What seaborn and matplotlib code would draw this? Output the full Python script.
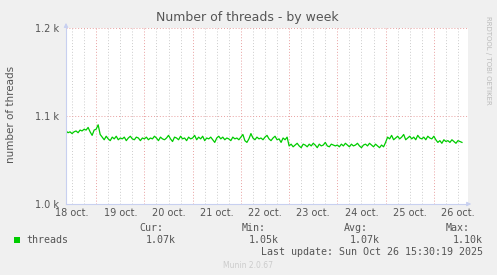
import matplotlib
matplotlib.use("Agg")
import matplotlib.pyplot as plt
import matplotlib.dates as mdates
import seaborn as sns
import pandas as pd
import numpy as np

# ---- data (hourly samples starting 18 oct 09:00) ----
day18 = [1083, 1081, 1082, 1080, 1082, 1083, 1081, 1084, 1083, 1085, 1084, 1087, 1082, 1078, 1084]
day19 = [1085, 1090, 1079, 1076, 1073, 1077, 1074, 1072, 1076, 1074, 1077, 1073, 1075, 1074, 1076, 1072,
         1075, 1077, 1074, 1073, 1076, 1075, 1072, 1075]
day20 = [1074, 1076, 1073, 1075, 1074, 1077, 1075, 1072, 1076, 1074, 1073, 1075, 1078, 1074, 1071, 1076,
         1075, 1073, 1077, 1074, 1075, 1072, 1076, 1074]
day21 = [1075, 1078, 1073, 1076, 1074, 1077, 1072, 1075, 1074, 1076, 1073, 1070, 1075, 1077, 1074, 1076,
         1073, 1075, 1074, 1072, 1076, 1074, 1075, 1073]
day22 = [1076, 1079, 1072, 1070, 1074, 1080, 1075, 1073, 1076, 1074, 1075, 1073, 1076, 1078, 1074, 1072,
         1075, 1077, 1073, 1074, 1070, 1075, 1073, 1076]
day23 = [1066, 1068, 1065, 1067, 1069, 1066, 1064, 1068, 1067, 1065, 1068, 1066, 1069, 1067, 1064, 1068,
         1066, 1067, 1070, 1066, 1065, 1068, 1067, 1066]
day24 = [1067, 1065, 1068, 1066, 1069, 1067, 1065, 1068, 1066, 1067, 1069, 1066, 1064, 1067, 1068, 1066,
         1069, 1067, 1065, 1068, 1066, 1064, 1067, 1065]
day25 = [1070, 1076, 1074, 1078, 1073, 1075, 1077, 1074, 1076, 1079, 1073, 1075, 1077, 1074, 1076, 1073,
         1078, 1075, 1074, 1076, 1073, 1077, 1075, 1074]
day26 = [1077, 1073, 1070, 1072, 1069, 1073, 1071, 1072, 1070, 1073, 1071, 1069, 1072, 1071, 1070]

start_time = "2025-10-18 09:00"
x_start = "2025-10-18 09:00"
x_end = "2025-10-26 17:00"
day_labels = ["18 oct.", "19 oct.", "20 oct.", "21 oct.", "22 oct.", "23 oct.", "24 oct.", "25 oct.", "26 oct."]
y_ticks = [1000, 1100, 1200]
y_tick_labels = ["1.0 k", "1.1 k", "1.2 k"]
legend_name = "threads"
stats = {"Cur:": "1.07k", "Min:": "1.05k", "Avg:": "1.07k", "Max:": "1.10k"}
last_update = "Last update: Sun Oct 26 15:30:19 2025"

values = day18 + day19 + day20 + day21 + day22 + day23 + day24 + day25 + day26
times = pd.date_range(start_time, periods=len(values), freq="h")
df = pd.DataFrame({"time": times, "threads": values})

# ---- figure ----
BG = "#F0F0F0"
fig = plt.figure(figsize=(4.97, 2.75), dpi=100, facecolor=BG)
ax = fig.add_axes([66 / 497, 1 - 204 / 275, 402 / 497, 176 / 275])
ax.set_facecolor("white")

sns.lineplot(data=df, x="time", y="threads", ax=ax, color="#00CC00", linewidth=0.9)

ax.set_xlim(pd.Timestamp(x_start), pd.Timestamp(x_end))
ax.set_ylim(1000, 1200)

# grid lines
day0 = pd.Timestamp("2025-10-18")
for h in range(0, 9 * 24 + 1, 6):
    t = day0 + pd.Timedelta(hours=h)
    if t < pd.Timestamp(x_start) or t > pd.Timestamp(x_end):
        continue
    if h % 24 == 0:
        ax.axvline(t, color="#E8A0A0", lw=0.7, ls=(0, (1, 2)), zorder=0)
    else:
        ax.axvline(t, color="#CCCCCC", lw=0.7, ls=(0, (1, 2)), zorder=0)
for yv in y_ticks:
    ax.axhline(yv, color="#E8A0A0", lw=0.7, ls=(0, (1, 2)), zorder=0)

# ticks
noons = [day0 + pd.Timedelta(days=i, hours=12) for i in range(len(day_labels))]
ax.set_xticks(noons)
ax.set_xticklabels(day_labels)
ax.set_yticks(y_ticks)
ax.set_yticklabels(y_tick_labels)
ax.tick_params(axis="both", length=0, labelsize=7, colors="#555555", pad=5)
ax.tick_params(axis="x", pad=3)
ax.set_xlabel("")
ax.set_ylabel("")

for s in ["top", "right"]:
    ax.spines[s].set_visible(False)
for s in ["left", "bottom"]:
    ax.spines[s].set_color("#C8D0F0")
    ax.spines[s].set_linewidth(0.8)

# axis arrows
ax.annotate("", xy=(0, 1.045), xytext=(0, 0.99), xycoords="axes fraction",
            arrowprops=dict(arrowstyle="-|>", color="#C8D0F0", lw=0.8, mutation_scale=6),
            annotation_clip=False)
ax.annotate("", xy=(1.015, 0), xytext=(0.99, 0), xycoords="axes fraction",
            arrowprops=dict(arrowstyle="-|>", color="#C8D0F0", lw=0.8, mutation_scale=6),
            annotation_clip=False)

# texts
fig.text(247 / 497, 1 - 18 / 275, "Number of threads - by week", ha="center", va="center",
         fontsize=9, color="#555555")
fig.text(11 / 497, 1 - 114 / 275, "number of threads", ha="center", va="center",
         rotation=90, fontsize=7.5, color="#555555")
fig.text(488 / 497, 1 - 60 / 275, "RRDTOOL / TOBI OETIKER", ha="center", va="center",
         rotation=270, fontsize=5, color="#BBBBBB")

# legend
mono = "DejaVu Sans Mono"
fig.patches.append(plt.Rectangle((14 / 497, 1 - 243 / 275), 6 / 497, 6 / 275,
                                 transform=fig.transFigure, facecolor="#00CC00",
                                 edgecolor="none"))
fig.text(26 / 497, 1 - 240 / 275, legend_name, ha="left", va="center",
         fontsize=7.2, family=mono, color="#555555")
label_x = [163, 266, 368, 470]
value_x = [176, 279, 380, 483]
for (lab, val), lx, vx in zip(stats.items(), label_x, value_x):
    fig.text(lx / 497, 1 - 228 / 275, lab, ha="right", va="center",
             fontsize=7.2, family=mono, color="#555555")
    fig.text(vx / 497, 1 - 240 / 275, val, ha="right", va="center",
             fontsize=7.2, family=mono, color="#555555")
fig.text(483 / 497, 1 - 252 / 275, last_update, ha="right", va="center",
         fontsize=7.2, family=mono, color="#555555")
fig.text(248 / 497, 1 - 265 / 275, "Munin 2.0.67", ha="center", va="center",
         fontsize=5.5, color="#CCCCCC")

fig.savefig("out.png", dpi=100, facecolor=BG)
